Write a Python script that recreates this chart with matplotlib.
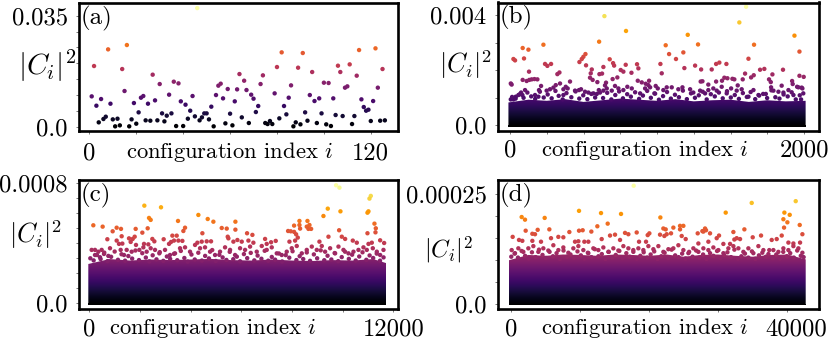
#!/usr/bin/env python3
"""Four panels of |C_i|^2 against configuration index, coloured by value.

The individually visible points are typed in as read from the picture. Below
them the dots merge into a solid mass, which is drawn as the inferno scale
clipped to the top edge read for that mass.
"""

import matplotlib
matplotlib.use("Agg")
import matplotlib.pyplot as plt
import numpy as np
from matplotlib.patches import Polygon
from matplotlib.transforms import ScaledTranslation

plt.rcParams["font.family"] = ["cmr10", "DejaVu Serif"]
plt.rcParams["mathtext.fontset"] = "cm"
plt.rcParams["axes.unicode_minus"] = False
plt.rcParams["axes.formatter.use_mathtext"] = True

# Panel a: every point, index 1, 2, 3, ... (values in units of 1e-3)
a_values = [
    9.56, 19.13, 6.62, 1.37, 8.72, 2.42, 3.15, 24.38, 7.25, 2.31, 0.11, 2.52, 0.42, 18.18,
    11.25, 25.75, 0.11, 2.31, 7.46, 0.95, 4.52, 9.14, 9.67, 2.0, 7.25, 1.89, 16.4, 8.3, 2.0,
    13.45, 4.2, 1.68, 3.47, 10.09, 4.2, 14.19, 0.21, 13.66, 7.99, 0.21, 6.94, 2.52, 5.04,
    9.67, 3.26, 37.4, 2.0, 2.94, 4.2, 4.2, 2.31, 6.31, 0.11, 9.98, 12.93, 13.56, 8.93, 1.05,
    11.88, 4.1, 0.42, 7.99, 11.77, 16.6, 2.94, 14.5, 11.56, 1.16, 10.09, 8.83, 4.62, 6.52,
    13.45, 16.19, 1.16, 0.84, 1.79, 0.84, 10.51, 18.81, 2.63, 23.44, 6.52, 3.89, 9.14, 13.03,
    0.11, 1.37, 18.6, 0.74, 23.23, 4.52, 1.89, 9.98, 17.24, 8.09, 1.16, 8.93, 4.2, 13.87,
    0.74, 13.77, 0.21, 8.93, 3.68, 19.23, 17.24, 3.36, 12.3, 12.72, 19.65, 0.84, 3.36, 16.08,
    24.17, 8.62, 6.2, 5.04, 5.36, 1.79, 8.09, 24.7, 12.3, 1.89, 18.18, 2.0,
]

# Panel b: visible points (values in units of 1e-5)
b_index = [
    642, 1606, 1560, 789, 606, 1209, 1935, 1279, 1059, 1660, 227, 86, 125, 1969, 513, 1082,
    1179, 95, 23, 34, 499, 488, 472, 678, 701, 708, 1129, 1622, 238, 254, 279, 517, 635, 787,
    864, 873, 1023, 1259, 1300, 1186, 1402, 1424, 1472, 1372, 1701, 1730, 1857, 753, 771, 826,
    556, 129, 336, 322, 549, 608, 626, 1032, 1785, 1599, 1658, 1640, 1969, 1998, 86, 113, 131,
    147, 166, 186, 5, 11, 408, 544, 562, 594, 653, 646, 698, 730, 869, 896, 946, 923, 941, 1297,
    1309, 1349, 1402, 1442, 1458, 1479, 1513, 1526, 1549, 1583, 1762, 1774, 1848, 1919, 1923,
    1953, 1984, 5, 23, 39, 57, 75, 102, 84, 170, 197, 211, 193, 249, 272, 295, 311, 340, 363,
    379, 392, 363, 442, 469, 483, 510, 533, 567, 590, 612, 635, 658, 692, 714, 737, 771, 798,
    828, 885, 919, 953, 991, 982, 1005, 1043, 1066, 1100, 1145, 1173, 1225, 1247, 1293, 1327,
    1349, 1383, 1406, 1440, 1474, 1504, 1542, 1576, 1622, 1656, 1690, 1740, 1776, 1792, 1826,
    1860, 1894, 1928, 1962, 1989, 1980,
    14, 38, 66, 92, 118, 144, 171, 203, 229, 256, 283, 309, 331, 358, 384, 417, 446, 471, 498, 526,
    553, 579, 604, 633, 661, 689, 716, 742, 768, 797, 822, 851, 878, 904, 933, 958, 987, 1013, 1041,
    1068, 1094, 1122, 1149, 1176, 1203, 1231, 1258, 1284, 1311, 1338, 1366, 1393, 1421, 1447, 1476,
    1502, 1529, 1557, 1584, 1611, 1637, 1668, 1695, 1722, 1749, 1778, 1805, 1833, 1861, 1889, 1916,
    1944, 1971, 1995,
]
b_values = [
    396, 430, 373, 342, 303, 328, 325, 293, 290, 292, 292, 280, 274, 267, 258, 258, 264, 242,
    240, 235, 248, 240, 229, 239, 225, 216, 240, 241, 222, 215, 222, 217, 211, 219, 221, 206,
    222, 216, 202, 207, 222, 227, 222, 202, 201, 204, 201, 200, 194, 190, 202, 194, 191, 185,
    188, 185, 187, 188, 184, 187, 181, 173, 179, 175, 164, 160, 164, 166, 167, 166, 151, 147,
    158, 172, 164, 156, 154, 144, 167, 173, 161, 155, 161, 150, 145, 158, 159, 147, 158, 161,
    172, 170, 168, 166, 144, 166, 166, 156, 143, 160, 149, 139, 136, 93, 93, 103, 109, 118,
    127, 109, 109, 127, 142, 103, 125, 130, 136, 145, 151, 130, 139, 133, 109, 125, 127, 130,
    121, 118, 115, 113, 118, 125, 133, 125, 142, 133, 127, 139, 133, 115, 133, 137, 142, 115,
    133, 127, 137, 137, 130, 137, 130, 118, 125, 115, 127, 133, 125, 139, 115, 133, 125, 130,
    103, 127, 109, 113, 137, 125, 121, 118, 127, 109, 137, 133, 93,
    102, 96, 112, 99, 118, 104, 95, 121, 100, 111, 97, 124, 106, 93, 116, 101, 122, 96, 108, 94,
    113, 100, 127, 98, 117, 93, 109, 122, 97, 112, 103, 119, 95, 107, 124, 99, 114, 92, 105,
    120, 96, 110, 101, 125, 94, 115, 99, 108, 121, 93, 112, 104, 118, 97, 123,
    100, 109, 95, 116, 102, 120, 94, 107, 113, 98, 126, 101, 96, 111, 104, 119,
    93, 108, 115,
]
b_band_index = [-11, 125, 250, 375, 500, 625, 750, 875, 1000, 1125, 1250, 1375, 1500, 1625, 1750, 1875, 2011]
b_band_top = [82, 92, 88, 94, 84, 90, 96, 92, 88, 94, 86, 90, 92, 84, 90, 86, 88]
b_band_floor = -6

# Panel c: visible points (values in units of 1e-6)
c_index = [
    9738, 9870, 11107, 11054, 2171, 2829, 9409, 9909, 11015, 10975, 9238, 4303, 2356, 2421,
    3500, 4672, 4895, 5764, 158, 526, 11251, 8291, 8607, 8080, 8291, 8317, 8686, 8580, 8646,
    8752, 5225, 5422, 5764, 9857, 11304, 11291, 10975, 7843, 7948, 8080, 8159, 8225, 921, 1079,
    1250, 1829, 2092, 2303, 3777, 3711, 3448, 3277, 4461, 6224, 6435, 5461, 1276, 1566, 1711,
    1790, 711, 1079, 1171, 1303, 1632, 2158, 2329, 2487, 2566, 2934, 3145, 3224, 3342, 3514,
    3672, 4264, 4435, 4632, 4803, 5488, 5685, 5843, 6014, 6277, 6474, 6935, 7000, 7172, 7356,
    7896, 8120, 9080, 9436, 9962, 10094, 10396, 10554, 11015, 11146, 11475, 11633, 92, 224, 355,
    487, 816, 224, 421, 579, 750, 1237, 1474, 1369, 1671, 1842, 1974, 2132, 2263, 2421, 2592,
    2763, 2987, 3184, 3382, 3579, 3777, 3974, 4172, 4369, 4566, 4764, 4961, 5158, 5356, 5553,
    5751, 5948, 6146, 6343, 6606, 6804, 7000, 7198, 7396, 7593, 7790, 7988, 8185, 8383, 8580,
    8778, 8975, 9172, 9304, 9501, 9699, 9831, 10028, 10225, 10423, 10620, 10817, 10949, 11186,
    11344, 11475, 11607,
    40, 170, 300, 445, 590, 720, 860, 1000, 1130, 1270, 1410, 1540, 1690, 1820, 1960, 2090, 2230,
    2370, 2500, 2650, 2780, 2920, 3060, 3190, 3340, 3470, 3610, 3750, 3880, 4030, 4160, 4300, 4440,
    4570, 4720, 4850, 4990, 5130, 5260, 5410, 5540, 5680, 5820, 5950, 6100, 6230, 6370, 6510, 6640,
    6790, 6920, 7060, 7200, 7330, 7480, 7610, 7750, 7890, 8020, 8170, 8300, 8440, 8580, 8710, 8860,
    8990, 9130, 9270, 9400, 9550, 9680, 9820, 9960, 10090, 10240, 10370, 10510, 10650, 10780, 10930,
    11060, 11200, 11340, 11470, 11610,
]
c_values = [
    787, 771, 716, 698, 651, 640, 631, 613, 613, 604, 582, 589, 569, 556, 549, 562, 544, 544,
    520, 511, 531, 549, 549, 518, 522, 498, 522, 511, 496, 496, 502, 498, 491, 487, 500, 473,
    467, 482, 480, 476, 460, 438, 480, 504, 496, 496, 471, 500, 504, 482, 451, 451, 467, 467,
    456, 444, 447, 433, 429, 444, 427, 418, 396, 398, 409, 396, 393, 429, 413, 427, 396, 409,
    418, 418, 416, 404, 411, 413, 413, 433, 411, 422, 411, 418, 404, 429, 396, 407, 416, 411,
    418, 411, 444, 444, 429, 418, 404, 396, 404, 420, 402, 356, 356, 344, 356, 367, 322, 307,
    329, 316, 356, 356, 322, 344, 389, 356, 373, 344, 367, 356, 333, 356, 322, 333, 367, 373,
    344, 389, 367, 373, 344, 322, 344, 373, 356, 322, 367, 356, 378, 344, 382, 356, 373, 333,
    322, 344, 367, 382, 333, 356, 378, 356, 382, 344, 367, 333, 378, 356, 333, 344, 356, 373,
    356, 367, 344, 322, 356,
    300, 286, 322, 295, 338, 281, 310, 345, 290, 327, 284, 315, 298, 352, 288, 334, 305,
    279, 320, 293, 341, 283, 312, 296, 330, 287, 349, 302, 278, 325, 292, 337, 285,
    316, 299, 355, 282, 323, 306, 289, 343, 294, 311, 280, 328, 301, 336, 286, 318,
    297, 350, 284, 309, 291, 332, 279, 321, 304, 347, 288, 314, 295, 339, 283, 326,
    300, 353, 287, 317, 292, 335, 281, 308, 344, 296, 324, 285, 312, 340, 290,
    319, 302, 331, 284, 306,
]
c_band_index = [-40, 800, 1600, 2400, 3200, 4000, 4800, 5600, 6400, 7200, 8000, 8800, 9600, 10400, 11200, 11713]
c_band_top = [262, 295, 285, 292, 288, 292, 296, 288, 285, 292, 285, 282, 288, 285, 295, 268]
c_band_floor = -9

# Panel d: visible points (values in units of 1e-6)
d_index = [
    17756, 34837, 41206, 9843, 13028, 15923, 21616, 31073, 1544, 2027, 4873, 39565, 40337, 39420,
    39999, 39517, 41785, 42171, 13993, 12497, 5549, 3860, 2123, 9843, 10374, 11628, 3088, 3474,
    8444, 241, 5790, 6852, 7575, 24463, 24946, 24463, 23498, 22050, 22388, 22533, 23160, 22195,
    21568, 27020, 27696, 28082, 28225, 28805, 27841, 32183, 33775, 36187, 34981, 39179, 16502,
    16984, 15054, 14330, 18190, 20024, 19783, 24704, 25284, 29770, 30107, 32327, 32665, 33147,
    37731, 38455, 1158, 1640, 3088, 4342, 9264, 9747, 10615, 11194, 13124, 15778, 18528, 19541,
    27116, 28564, 30735, 31701, 40144, 40868, 41833, 97, 579, 1062, 1785, 2509, 3233, 3957, 4680,
    5404, 6128, 6852, 7575, 8299, 9023, 9747, 10470, 11194, 11918, 12642, 13365, 14089, 14813,
    15537, 16260, 16984, 17708, 18432, 19155, 19879, 20603, 21327, 22050, 22774, 23498, 24222,
    24946, 25670, 26393, 27117, 27841, 28564, 29288, 30012, 30736, 31459, 32183, 32907, 33630,
    34354, 35078, 35802, 36525, 37249, 37973, 38696, 39420, 40144, 40868, 41591, 42171,
    40, 520, 1010, 1530, 2040, 2550, 3030, 3560, 4050, 4560, 5050, 5580, 6070, 6590, 7080, 7600,
    8090, 8610, 9100, 9620, 10110, 10630, 11120, 11640, 12130, 12650, 13140, 13660, 14150, 14670,
    15160, 15680, 16170, 16690, 17180, 17700, 18190, 18710, 19200, 19720, 20210, 20730, 21220,
    21740, 22230, 22750, 23240, 23760, 24250, 24770, 25260, 25780, 26270, 26790, 27280, 27800,
    28290, 28810, 29300, 29820, 30310, 30830, 31320, 31840, 32330, 32850, 33340, 33860, 34350,
    34870, 35360, 35880, 36370, 36890, 37380, 37900, 38390, 38910, 39400, 39920, 40410, 40930,
    41420, 41940, 42350,
]
d_values = [
    269, 230, 234, 212, 207, 205, 197, 208, 198, 192, 196, 208, 203, 193, 186, 174, 180, 159,
    183, 177, 170, 169, 167, 167, 168, 165, 160, 159, 164, 153, 150, 153, 152, 178, 178, 170,
    174, 172, 170, 159, 161, 155, 158, 161, 166, 172, 168, 161, 165, 164, 170, 156, 152, 156,
    162, 159, 158, 156, 163, 161, 157, 155, 148, 150, 156, 147, 150, 148, 146, 148, 146, 144,
    144, 142, 142, 143, 142, 142, 148, 146, 142, 142, 138, 142, 137, 137, 140, 138, 140, 123,
    116, 127, 119, 127, 132, 119, 127, 122, 134, 123, 129, 117, 127, 132, 123, 116, 127, 123,
    129, 119, 127, 122, 132, 127, 119, 127, 123, 132, 125, 132, 119, 125, 127, 134, 123, 116,
    127, 119, 127, 123, 129, 123, 116, 127, 132, 127, 119, 127, 116, 132, 123, 114, 123, 119,
    127, 123, 132, 127, 117,
    108, 115, 106, 121, 110, 104, 118, 107, 124, 112, 105, 119, 109, 116, 103, 122, 108, 113, 106,
    120, 111, 104, 117, 107, 125, 109, 114, 103, 119, 106, 112, 121, 105, 116, 108, 123, 104, 110,
    118, 106, 113, 120, 103, 109, 117, 105, 124, 111, 107, 115, 104, 119, 108, 122, 106, 113, 103,
    116, 110, 121, 105, 112, 118, 107, 124, 104, 109, 115, 106, 120, 103, 111, 117, 108, 123, 105,
    113, 104, 119, 109, 116, 106, 122, 110, 107,
]
d_band_index = [-290, 2500, 5000, 7500, 10000, 12500, 15000, 17500, 20000, 22500, 25000, 27500, 30000, 32500, 35000, 37500, 40000, 42650]
d_band_top = [100, 112, 110, 113, 112, 110, 113, 112, 110, 113, 108, 112, 113, 110, 108, 112, 113, 102]
d_band_floor = -2.3

W, H = 830, 340


def axes_px(left, right, top, bottom):
    return [left / W, 1 - bottom / H, (right - left) / W, (bottom - top) / H]


def draw_panel(box, xlim, ylim, x, y, letter, xticks, xticklabels, yticks, yticklabels, xpad, band=None):
    ax = fig.add_axes(axes_px(*box))
    x = np.asarray(x, dtype=float)
    y = np.asarray(y, dtype=float)
    vmax = y.max()

    if band is not None:
        bx, btop, floor = band
        top = max(btop)
        column = np.linspace(top, 0, 256).reshape(-1, 1)
        im = ax.imshow(column, cmap="inferno", vmin=0, vmax=vmax, aspect="auto",
                       extent=[bx[0], bx[-1], 0, top], zorder=1)
        # below zero the dots just stay black
        ax.fill_between(bx, floor, 0, color="black", lw=0, zorder=1)
        outline = list(zip(bx, btop)) + [(bx[-1], 0), (bx[0], 0)]
        im.set_clip_path(Polygon(outline, closed=True, transform=ax.transData))

    ax.scatter(x, y, c=y, cmap="inferno", vmin=0, vmax=vmax, s=10, linewidths=0, zorder=2)

    ax.set_xlim(xlim)
    ax.set_ylim(ylim)
    ax.set_xticks(xticks)
    ax.set_xticklabels(xticklabels, fontsize=17.7)
    ax.set_yticks(yticks)
    ax.set_yticklabels(yticklabels, fontsize=17.7)
    ax.tick_params(axis="x", length=2, width=0.5, color="#444444", pad=xpad)
    ax.tick_params(axis="y", length=2, width=0.5, color="#444444", pad=6)
    for spine in ax.spines.values():
        spine.set_linewidth(1.9)
    ax.text(0.006, 0.88, letter, transform=ax.transAxes, fontsize=18, ha="left", va="center", zorder=3)
    return ax


def blank_between(first, last, n):
    return [first] + [""] * (n - 2) + [last]


fig = plt.figure(figsize=(W / 100, H / 100), dpi=100)

ax_a = draw_panel(
    (78.8, 398, 3, 130.5), (-4.5, 131.6), (-0.0012, 0.0390),
    np.arange(1, len(a_values) + 1), np.array(a_values) * 1e-3, "(a)",
    np.arange(0, 121, 20), blank_between("0", "120", 7),
    np.arange(0, 0.0351, 0.005), blank_between("0.0", "0.035", 8), 6.5,
)
ax_b = draw_panel(
    (497.7, 819, 2.5, 130.5), (-84, 2102), (-0.0002, 0.004455),
    b_index, np.array(b_values) * 1e-5, "(b)",
    np.arange(0, 2001, 250), blank_between("0", "2000", 9),
    np.arange(0, 0.00401, 0.001), blank_between("0.0", "0.004", 5), 4.5,
    band=(b_band_index, np.array(b_band_top) * 1e-5, b_band_floor * 1e-5),
)
ax_c = draw_panel(
    (78.8, 398, 180, 308.5), (-415, 12180), (-0.0000347, 0.000822),
    c_index, np.array(c_values) * 1e-6, "(c)",
    np.arange(0, 12001, 2000), blank_between("0", "12000", 7),
    np.arange(0, 0.00081, 0.0001), blank_between("0.0", "0.0008", 9), 5,
    band=(c_band_index, np.array(c_band_top) * 1e-6, c_band_floor * 1e-6),
)
ax_d = draw_panel(
    (497.7, 819, 180, 308.5), (-1925, 44575), (-0.0000095, 0.000282),
    d_index, np.array(d_values) * 1e-6, "(d)",
    np.arange(0, 40001, 10000), blank_between("0", "40000", 5),
    np.arange(0, 0.000251, 0.00005), blank_between("0.0", "0.00025", 6), 5,
    band=(d_band_index, np.array(d_band_top) * 1e-6, d_band_floor * 1e-6),
)

# 40000 sits to the right of its tick in the original
last_label = ax_d.get_xticklabels()[-1]
last_label.set_transform(last_label.get_transform() + ScaledTranslation(9 / 100, 0, fig.dpi_scale_trans))

for cx, cy in [(230, 152), (645, 150), (213, 328), (645, 328)]:
    fig.text(cx / W, 1 - cy / H, "configuration index $i$", fontsize=16.3, ha="center", va="center")
for cx, cy, size in [(47, 66, 21), (465, 65, 19), (35, 235, 19), (448, 250, 17.5)]:
    fig.text(cx / W, 1 - cy / H, r"$|C_i|^2$", fontsize=size, ha="center", va="center")

fig.savefig("out.png", dpi=100)
